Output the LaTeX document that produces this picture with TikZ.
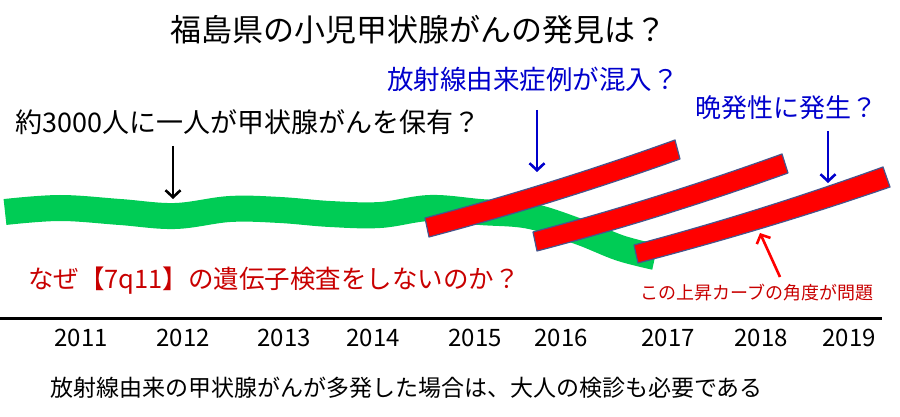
\documentclass[tikz,border=0pt]{standalone}
\usepackage{fontspec}
\setmainfont{Noto Sans CJK JP}
\usetikzlibrary{arrows.meta, positioning, calc}
\definecolor{wavegreen}{RGB}{0,204,85}
\definecolor{barred}{RGB}{255,0,0}
\definecolor{baredge}{RGB}{70,85,140}
\definecolor{noteblue}{RGB}{0,0,204}
\definecolor{notered}{RGB}{200,0,0}
\tikzset{
	txt/.style={inner sep=0pt, anchor=west},
	pointer/.style={draw, line width=2.6pt, -{Straight Barb[length=7pt, width=15pt]}},
	bar/.style={fill=barred, draw=baredge, line width=1.2pt, line join=round}
}

\begin{document}
\begin{tikzpicture}[
	x=1pt, y=-1pt,
	wave/.style={draw=wavegreen, line width=26pt, line cap=butt},
	year/.style={font=\fontsize{24}{24}\selectfont, inner sep=0pt}
	]
	\useasboundingbox (0,0) rectangle (900,417);
	
	% Texts
	\node[txt, font=\fontsize{31}{31}\selectfont] (title) at (170,30) {福島県の小児甲状腺がんの発見は？};
	\node[txt, text=noteblue, font=\fontsize{26.5}{26.5}\selectfont] (radiation_note) at (387,79) {放射線由来症例が混入？};
	\node[txt, font=\fontsize{27}{27}\selectfont] (baseline_note) at (15,122) {約3000人に一人が甲状腺がんを保有？};
	\node[txt, text=noteblue, font=\fontsize{26}{26}\selectfont] (late_note) at (695,108) {晩発性に発生？};
	\node[txt, text=notered, font=\fontsize{25.5}{25.5}\selectfont] (gene_note) at (28,281) {なぜ【7q11】の遺伝子検査をしないのか？};
	\node[txt, text=notered, font=\fontsize{18}{18}\selectfont] (angle_note) at (640,293) {この上昇カーブの角度が問題};
	\node[txt, font=\fontsize{23}{23}\selectfont] (adult_note) at (50,388) {放射線由来の甲状腺がんが多発した場合は、大人の検診も必要である};
	
	% Green baseline wave
	\draw[wave] plot[smooth, tension=0.6] coordinates {(5,212) (60,208) (120,212) (175,216) (230,209) (280,210) (330,214) (380,215) (430,208) (480,212) (530,216) (580,232) (620,248) (655,257)};
	
	% Red rising bars
	\draw[bar] (425,218) .. controls (508,196) and (592,170) .. (675,140) -- (680,159) .. controls (596,189) and (512,215) .. (429,237) -- cycle;
	\draw[bar] (533,232) .. controls (616,210) and (699,184) .. (782,154) -- (788,173) .. controls (704,203) and (621,229) .. (537,251) -- cycle;
	\draw[bar] (634,245) .. controls (717,223) and (800,197) .. (883,167) -- (890,187) .. controls (806,216) and (722,241) .. (638,263) -- cycle;
	
	% Arrows
	\coordinate (baseline_tail) at (173,146);
	\coordinate (baseline_tip) at (173,199);
	\coordinate (radiation_tail) at (537,110);
	\coordinate (radiation_tip) at (537,172);
	\coordinate (late_tail) at (828,131);
	\coordinate (late_tip) at (828,183);
	\coordinate (angle_tail) at (780,277);
	\coordinate (angle_tip) at (760,233);
	\draw[pointer, black] (baseline_tail) -- (baseline_tip);
	\draw[pointer, noteblue] (radiation_tail) -- (radiation_tip);
	\draw[pointer, noteblue] (late_tail) -- (late_tip);
	\draw[pointer, barred] (angle_tail) -- (angle_tip);
	
	% Time axis
	\coordinate (axis_left) at (0,318);
	\coordinate (axis_right) at (882,318);
	\draw[line width=3pt] (axis_left) -- (axis_right);
	\foreach \yr/\xpos in {2011/81, 2012/183, 2013/284, 2014/373, 2015/475, 2016/561, 2017/668, 2018/761, 2019/849}
		\node[year] (year_\yr) at (\xpos,338) {\yr};
	
\end{tikzpicture}
\end{document}
